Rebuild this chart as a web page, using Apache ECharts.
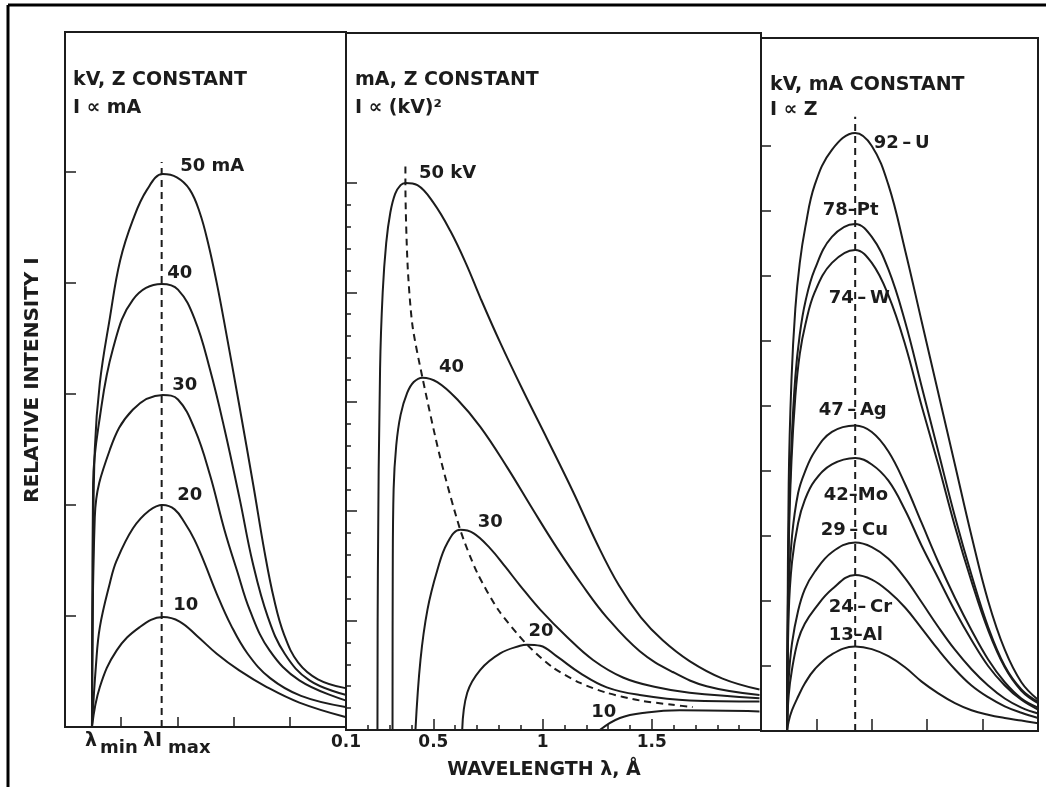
<!DOCTYPE html>
<html>
<head>
<meta charset="utf-8">
<title>Continuous X-ray spectrum</title>
<script src="https://cdn.jsdelivr.net/npm/echarts@6/dist/echarts.min.js"></script>
<style>
  html, body { margin: 0; padding: 0; background: #fff; }
  #chart { width: 1046px; height: 787px; }
</style>
</head>
<body>
<div id="chart"></div>
<script>
// left panel: kV, Z constant, curves for tube current (x in tick units, y relative intensity)
var mA50 = [[0.48,0],[0.50,15],[0.53,25.0],[0.62,31.0],[0.80,36.9],[0.98,42.0],[1.21,45.7],[1.46,48.4],[1.74,49.8],[1.99,49.5],[2.22,48.4],[2.40,46.3],[2.55,43.5],[2.70,40.0],[2.85,36.0],[3.10,29.0],[3.35,21.8],[3.55,15.8],[3.72,11.5],[3.90,8.3],[4.15,5.8],[4.50,4.3],[4.99,3.5]];
var mA40 = [[0.48,0],[0.50,22.0],[0.62,27.9],[0.85,34.0],[1.21,38.5],[1.72,39.9],[2.01,39.4],[2.31,36.7],[2.58,32.2],[2.84,26.8],[3.11,20.5],[3.34,14.8],[3.61,9.9],[3.91,6.6],[4.35,4.2],[4.99,2.9]];
var mA30 = [[0.48,0],[0.53,18.9],[0.80,25.0],[1.21,28.6],[1.74,29.9],[2.01,29.5],[2.31,26.8],[2.58,22.7],[2.84,17.7],[3.06,14.1],[3.29,10.5],[3.64,6.9],[4.17,4.2],[4.99,2.4]];
var mA20 = [[0.48,0],[0.55,5.5],[0.62,9.0],[0.80,13.0],[0.92,15.0],[1.21,17.9],[1.50,19.5],[1.74,20.0],[1.95,19.6],[2.13,18.4],[2.30,16.9],[2.48,14.8],[2.70,12.0],[2.95,9.2],[3.25,6.6],[3.65,4.4],[4.20,2.8],[4.99,1.8]];
var mA10 = [[0.48,0],[0.62,3.6],[0.92,6.9],[1.33,9.0],[1.74,9.9],[2.04,9.5],[2.35,8.2],[2.70,6.6],[3.10,5.1],[3.59,3.6],[4.17,2.2],[4.99,0.9]];
var mAPeakLine = [[1.72,0],[1.72,50.9]];
var mALabels = ['50 mA','40','30','20','10'];

// middle panel: mA, Z constant, wavelength in angstrom
var kV50 = [[0.244,0],[0.246,14.6],[0.256,33.0],[0.268,40.0],[0.284,44.5],[0.303,47.3],[0.325,49.0],[0.350,49.8],[0.372,50.0],[0.427,49.8],[0.500,48.2],[0.578,45.6],[0.650,42.6],[0.715,39.5],[0.806,35.4],[0.911,31.0],[1.021,26.6],[1.139,21.8],[1.250,17.0],[1.350,13.2],[1.450,10.3],[1.550,8.2],[1.673,6.3],[1.824,4.7],[1.993,3.7]];
var kV40 = [[0.313,0],[0.314,14.0],[0.318,22.0],[0.330,26.0],[0.350,28.8],[0.380,30.8],[0.410,31.8],[0.450,32.2],[0.518,31.8],[0.610,30.2],[0.715,27.7],[0.838,24.0],[0.957,20.1],[1.067,16.6],[1.180,13.3],[1.294,10.3],[1.445,7.2],[1.596,5.3],[1.751,4.0],[1.993,3.2]];
var kV30 = [[0.418,0],[0.441,6.4],[0.473,11.0],[0.518,14.6],[0.564,17.1],[0.623,18.3],[0.683,18.0],[0.760,16.6],[0.830,14.9],[0.897,13.2],[0.989,11.0],[1.112,8.5],[1.231,6.4],[1.368,4.8],[1.523,3.9],[1.673,3.4],[1.993,2.9]];
var kV20 = [[0.632,0],[0.655,3.4],[0.715,5.5],[0.806,7.0],[0.897,7.7],[0.929,7.8],[0.989,7.7],[1.067,6.7],[1.172,5.2],[1.294,3.9],[1.445,3.2],[1.673,2.7],[1.993,2.6]];
var kV10 = [[1.262,0],[1.354,1.1],[1.477,1.6],[1.628,1.8],[1.993,1.7]];
var kVLocus = [[0.372,51.5],[0.372,50.0],[0.382,42.5],[0.404,37.0],[0.450,32.2],[0.530,25.0],[0.623,18.3],[0.700,14.4],[0.800,10.9],[0.929,7.8],[1.048,5.7],[1.172,4.3],[1.294,3.4],[1.445,2.7],[1.596,2.3],[1.687,2.1]];
var kVLabels = ['50 kV','40','30','20','10'];
var wlLabelTicks = [0.1, 0.5, 1, 1.5];
var wlMajorTicks = [0.5, 1, 1.5];
var kVMinorTicks = [2,4,6,8,12,14,16,18,22,24,26,28,32,34,36,38,42,44,46,48];
var kVMajorTicks = [10,20,30,40,50];

// right panel: kV, mA constant, target element
var zU  = [[0.47,0],[0.50,38],[0.55,54],[0.62,65],[0.70,72],[0.80,77.5],[0.97,84],[1.28,89.4],[1.70,92],[2.0,90],[2.3,84],[2.6,74],[2.9,63],[3.2,52],[3.5,41],[3.8,30],[4.1,20],[4.4,12.5],[4.7,7.5],[5.0,4.8]];
var zPt = [[0.47,0],[0.50,30],[0.55,44],[0.62,54.5],[0.70,61],[0.80,66],[0.97,71],[1.28,76],[1.70,78],[2.0,76],[2.3,71],[2.6,63],[2.9,53],[3.2,43],[3.5,33],[3.8,24],[4.1,16],[4.4,10],[4.7,6.4],[5.0,4.5]];
var zW  = [[0.47,0],[0.50,28],[0.55,41.5],[0.62,51.5],[0.70,58],[0.80,62.5],[0.97,67.5],[1.28,72],[1.70,74],[2.0,72],[2.3,67],[2.6,59.5],[2.9,50],[3.2,41],[3.5,31.5],[3.8,23],[4.1,15.5],[4.4,9.8],[4.7,6.2],[5.0,4.3]];
var zAg = [[0.47,0],[0.50,22],[0.56,30],[0.67,36.6],[0.79,39.8],[0.97,43],[1.28,46],[1.70,47],[2.0,46],[2.3,43],[2.6,38],[2.9,32],[3.2,26],[3.5,20.5],[3.8,15.5],[4.1,11],[4.4,7.5],[4.7,5],[5.0,3.6]];
var zMo = [[0.47,0],[0.50,18],[0.56,26],[0.67,32],[0.79,35.5],[0.97,38.5],[1.28,41],[1.70,42],[2.0,41],[2.3,38.5],[2.6,34],[2.9,28.5],[3.2,23.5],[3.5,18.5],[3.8,14],[4.1,10],[4.4,7],[4.7,4.8],[5.0,3.3]];
var zCu = [[0.47,0],[0.50,8],[0.56,13.5],[0.67,18.5],[0.79,21.8],[0.97,24.5],[1.28,27.5],[1.70,29],[2.0,28.3],[2.3,26.5],[2.6,23.5],[2.9,19.8],[3.2,16],[3.5,12.5],[3.8,9.5],[4.1,7],[4.4,5],[4.7,3.6],[5.0,2.7]];
var zCr = [[0.47,0],[0.50,5.5],[0.56,9.5],[0.67,14],[0.79,16.5],[0.97,18.8],[1.28,21.8],[1.70,24],[2.0,23.3],[2.3,21.5],[2.6,19],[2.9,15.8],[3.2,12.5],[3.5,9.5],[3.8,7],[4.1,5.2],[4.4,3.8],[4.7,2.8],[5.0,2.0]];
var zAl = [[0.47,0],[0.50,1.5],[0.56,3.2],[0.67,5.3],[0.79,7.3],[0.97,9.5],[1.28,11.8],[1.70,13],[2.0,12.6],[2.3,11.5],[2.6,9.8],[2.9,7.6],[3.2,5.8],[3.5,4.3],[3.8,3.2],[4.1,2.5],[4.4,2.0],[4.7,1.6],[5.0,1.2]];
var zPeakLine = [[1.70,0],[1.70,94.5]];
var zLabels = ['92\u2009\u2013\u2009U','78\u2013Pt','74\u2009\u2013\u2009W','47\u2009\u2013\u2009Ag','42\u2013Mo','29\u2009\u2013\u2009Cu','24\u2009\u2013\u2009Cr','13\u2013Al'];
var unitTicks = [10,20,30,40,50];
var zTicks = [10,20,30,40,50,60,70,80,90];

var ink = '#1c1c1c';
var fam = 'DejaVu Sans';

function peakOf(arr) {
    return arr.reduce(function (a, b) { return b[1] > a[1] ? b : a; });
}

function curve(data, gi, dashed) {
    return {
        type: 'line',
        xAxisIndex: gi,
        yAxisIndex: gi,
        data: data,
        showSymbol: false,
        silent: true,
        smooth: dashed ? 0.25 : 0.4,
        lineStyle: { color: ink, width: 2, type: dashed ? [7, 5] : 'solid' }
    };
}

function labels(curves, names, offsets, gi) {
    return {
        type: 'scatter',
        xAxisIndex: gi,
        yAxisIndex: gi,
        symbolSize: 1,
        silent: true,
        z: 5,
        itemStyle: { color: 'transparent' },
        label: {
            show: true, position: 'right', distance: 0, formatter: '{b}', opacity: 1,
            color: ink, fontFamily: fam, fontSize: 18, fontWeight: 'bold'
        },
        data: curves.map(function (c, i) {
            return { value: peakOf(c), name: names[i], label: { offset: offsets[i] } };
        })
    };
}

function txt(x, y, s, size, align, rot) {
    return {
        type: 'text', x: x, y: y, rotation: rot || 0, silent: true,
        style: {
            text: s, fill: ink, font: 'bold ' + (size || 19) + 'px "DejaVu Sans"',
            align: align || 'left', verticalAlign: 'middle',
            textAlign: align || 'left', textVerticalAlign: 'middle'
        }
    };
}

var gridStyle = { show: true, borderColor: ink, borderWidth: 2, backgroundColor: 'transparent' };
function hiddenAxis(extra) {
    var a = {
        type: 'value',
        axisLine: { show: false },
        splitLine: { show: false },
        axisLabel: { show: false },
        axisTick: { show: true, inside: true, length: 10, lineStyle: { color: ink, width: 1.5 } }
    };
    for (var k in extra) a[k] = extra[k];
    return a;
}

var chart = echarts.init(document.getElementById('chart'), null, { renderer: 'canvas' });
var option = {
    animation: false,
    backgroundColor: '#fff',
    grid: [
        Object.assign({ left: 65, top: 32, width: 281, height: 695 }, gridStyle),
        Object.assign({ left: 346, top: 33, width: 415, height: 697 }, gridStyle),
        Object.assign({ left: 761, top: 38, width: 277, height: 693 }, gridStyle)
    ],
    xAxis: [
        hiddenAxis({ gridIndex: 0, position: 'bottom', min: 0, max: 5, interval: 1 }),
        hiddenAxis({
            gridIndex: 1, position: 'bottom', min: 0.1, max: 2.0, interval: 0.1,
            axisTick: { show: true, inside: true, length: 5, lineStyle: { color: ink, width: 1.5 } },
            axisLabel: {
                show: true, customValues: wlLabelTicks, margin: 4,
                color: ink, fontFamily: fam, fontSize: 17, fontWeight: 'bold',
                formatter: function (v) { return String(v); }
            }
        }),
        hiddenAxis({ gridIndex: 2, position: 'bottom', min: 0, max: 5, interval: 1,
            axisTick: { show: true, inside: true, length: 12, lineStyle: { color: ink, width: 1.5 } } }),
        hiddenAxis({ gridIndex: 1, position: 'bottom', offset: 0, min: 0.1, max: 2.0,
            axisTick: { show: true, inside: true, length: 11, customValues: wlMajorTicks, lineStyle: { color: ink, width: 1.5 } } })
    ],
    yAxis: [
        hiddenAxis({ gridIndex: 0, position: 'left', min: 0, max: 62.6,
            axisTick: { show: true, inside: true, length: 11, customValues: unitTicks, lineStyle: { color: ink, width: 1.5 } } }),
        hiddenAxis({ gridIndex: 1, position: 'left', min: 0, max: 63.7,
            axisTick: { show: true, inside: true, length: 5, customValues: kVMinorTicks, lineStyle: { color: ink, width: 1.5 } } }),
        hiddenAxis({ gridIndex: 2, position: 'left', min: 0, max: 106.6,
            axisTick: { show: true, inside: true, length: 10, customValues: zTicks, lineStyle: { color: ink, width: 1.5 } } }),
        hiddenAxis({ gridIndex: 1, position: 'left', offset: 0, min: 0, max: 63.7,
            axisTick: { show: true, inside: true, length: 11, customValues: kVMajorTicks, lineStyle: { color: ink, width: 1.5 } } })
    ],
    graphic: [
        { type: 'line', silent: true, shape: { x1: 8, y1: 5, x2: 1046, y2: 5 }, style: { stroke: '#000', lineWidth: 3 } },
        { type: 'line', silent: true, shape: { x1: 8, y1: 5, x2: 8, y2: 787 }, style: { stroke: '#000', lineWidth: 3 } },
        txt(73, 80, 'kV, Z CONSTANT'),
        txt(73, 108, 'I \u221D mA'),
        txt(355, 80, 'mA, Z CONSTANT'),
        txt(355, 108, 'I \u221D (kV)\u00B2'),
        txt(770, 85, 'kV, mA CONSTANT'),
        txt(770, 110, 'I \u221D Z'),
        txt(544, 770, 'WAVELENGTH \u03BB, \u00C5', 19, 'center'),
        txt(33, 380, 'RELATIVE INTENSITY I', 20, 'center', Math.PI / 2),
        txt(85, 741, '\u03BB', 19),
        txt(100, 748, 'min', 18),
        txt(143, 741, '\u03BBI', 19),
        txt(168, 748, 'max', 18)
    ],
    series: [
        curve(mA50, 0), curve(mA40, 0), curve(mA30, 0), curve(mA20, 0), curve(mA10, 0),
        Object.assign(curve(mAPeakLine, 0, true), { smooth: false }),
        labels([mA50, mA40, mA30, mA20, mA10], mALabels,
            [[17, -8], [5, -11], [9, -10], [14, -10], [10, -12]], 0),

        curve(kV50, 1), curve(kV40, 1), curve(kV30, 1), curve(kV20, 1), curve(kV10, 1),
        curve(kVLocus, 1, true),
        labels([kV50, kV40, kV30, kV20, kV10], kVLabels,
            [[13, -10], [16, -10], [17, -7], [1, -13], [-89, 2]], 1),

        curve(zU, 2), curve(zPt, 2), curve(zW, 2), curve(zAg, 2),
        curve(zMo, 2), curve(zCu, 2), curve(zCr, 2), curve(zAl, 2),
        Object.assign(curve(zPeakLine, 2, true), { smooth: false }),
        labels([zU, zPt, zW, zAg, zMo, zCu, zCr, zAl], zLabels,
            [[18, 10], [-33, -14], [-27, 48], [-37, -15], [-32, 37], [-35, -12], [-27, 32], [-27, -11]], 2)
    ]
};
chart.setOption(option);
</script>
</body>
</html>
